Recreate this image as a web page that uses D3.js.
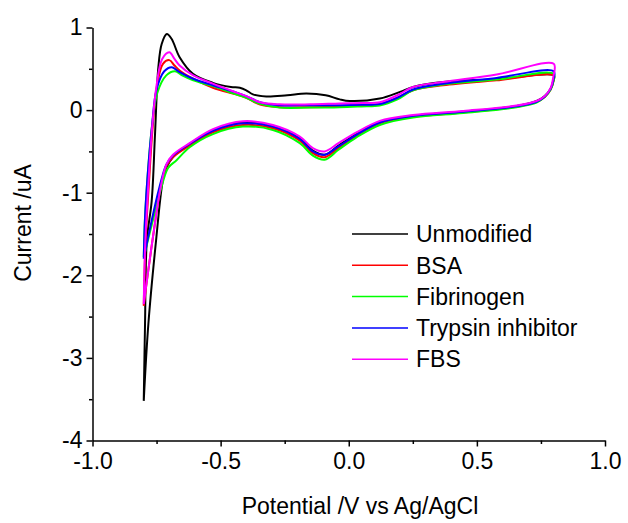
<!DOCTYPE html>
<html>
<head>
<meta charset="utf-8">
<script src="https://cdn.jsdelivr.net/npm/d3@7"></script>
<style>
  body { margin: 0; background: #fff; }
  svg { font-family: "Liberation Sans", Arial, sans-serif; }
</style>
</head>
<body>
<svg id="cv-chart" width="628" height="523"></svg>
<script>
// series names / colours (legend order)
const seriesNames = ["Unmodified", "BSA", "Fibrinogen", "Trypsin inhibitor", "FBS"];
const seriesColors = ["#000000", "#ff0000", "#00ff00", "#0000ff", "#ff00ff"];

// axis ticks
const xTicks = [-1.0, -0.5, 0.0, 0.5, 1.0];
const xMinorTicks = [-0.75, -0.25, 0.25, 0.75];
const yTicks = [-4, -3, -2, -1, 0, 1];
const yMinorTicks = [-3.5, -2.5, -1.5, -0.5, 0.5];

// [potential V, current uA], one full cycle starting at -0.8 V
const unmodified = [
  [-0.800, -3.52], [-0.795, -2.59], [-0.788, -1.58], [-0.769, -1.10], [-0.756, -0.29], [-0.743, 0.52],
  [-0.730, 0.80], [-0.710, 0.92], [-0.691, 0.86], [-0.660, 0.64], [-0.608, 0.44], [-0.530, 0.33],
  [-0.460, 0.28], [-0.425, 0.27], [-0.400, 0.24], [-0.374, 0.19], [-0.322, 0.165], [-0.240, 0.18],
  [-0.166, 0.20], [-0.090, 0.18], [-0.035, 0.13], [0.004, 0.11], [0.121, 0.14], [0.200, 0.22],
  [0.251, 0.28], [0.368, 0.34], [0.577, 0.375], [0.800, 0.42],
  [0.798, 0.35], [0.788, 0.26], [0.765, 0.17], [0.733, 0.11], [0.655, 0.05], [0.447, -0.02],
  [0.251, -0.07], [0.121, -0.15], [0.030, -0.29], [-0.040, -0.43], [-0.094, -0.54], [-0.140, -0.49],
  [-0.191, -0.34], [-0.296, -0.20], [-0.413, -0.15], [-0.530, -0.25], [-0.621, -0.41], [-0.686, -0.57],
  [-0.712, -0.70], [-0.726, -0.86], [-0.752, -1.58], [-0.782, -2.59], [-0.800, -3.52]
];

const bsa = [
  [-0.800, -2.37], [-0.793, -1.60], [-0.780, -0.90], [-0.765, -0.20], [-0.748, 0.30], [-0.725, 0.56],
  [-0.700, 0.605], [-0.680, 0.54], [-0.660, 0.48], [-0.607, 0.38], [-0.530, 0.27], [-0.440, 0.19],
  [-0.400, 0.15], [-0.346, 0.066], [-0.270, 0.035], [-0.150, 0.035], [-0.035, 0.045], [0.050, 0.06],
  [0.121, 0.07], [0.190, 0.15], [0.251, 0.24], [0.368, 0.30], [0.577, 0.36], [0.800, 0.42],
  [0.798, 0.34], [0.788, 0.25], [0.765, 0.16], [0.733, 0.10], [0.655, 0.04], [0.447, -0.03],
  [0.251, -0.08], [0.121, -0.16], [0.030, -0.31], [-0.040, -0.46], [-0.094, -0.57], [-0.140, -0.52],
  [-0.191, -0.37], [-0.296, -0.22], [-0.413, -0.18], [-0.530, -0.27], [-0.621, -0.43], [-0.686, -0.57],
  [-0.712, -0.68], [-0.735, -0.95], [-0.760, -1.45], [-0.785, -2.00], [-0.800, -2.37]
];

const fibrinogen = [
  [-0.800, -1.78], [-0.795, -1.30], [-0.785, -0.80], [-0.768, -0.20], [-0.748, 0.20], [-0.712, 0.42],
  [-0.678, 0.47], [-0.650, 0.42], [-0.607, 0.36], [-0.530, 0.29], [-0.440, 0.19], [-0.400, 0.15],
  [-0.346, 0.075], [-0.270, 0.03], [-0.150, 0.03], [-0.035, 0.035], [0.050, 0.045], [0.121, 0.055],
  [0.190, 0.13], [0.251, 0.24], [0.368, 0.31], [0.577, 0.37], [0.800, 0.44],
  [0.798, 0.34], [0.788, 0.25], [0.765, 0.16], [0.733, 0.09], [0.655, 0.035], [0.447, -0.035],
  [0.251, -0.09], [0.121, -0.18], [0.030, -0.33], [-0.040, -0.48], [-0.094, -0.60], [-0.140, -0.55],
  [-0.191, -0.40], [-0.296, -0.24], [-0.413, -0.20], [-0.530, -0.29], [-0.621, -0.45], [-0.673, -0.61],
  [-0.705, -0.70], [-0.735, -0.98], [-0.768, -1.38], [-0.800, -1.78]
];

const trypsin = [
  [-0.800, -1.80], [-0.795, -1.30], [-0.785, -0.80], [-0.768, -0.20], [-0.750, 0.25], [-0.720, 0.47],
  [-0.691, 0.52], [-0.670, 0.48], [-0.660, 0.46], [-0.607, 0.38], [-0.530, 0.30], [-0.440, 0.215],
  [-0.400, 0.17], [-0.346, 0.095], [-0.270, 0.06], [-0.150, 0.06], [-0.035, 0.06], [0.050, 0.065],
  [0.121, 0.075], [0.190, 0.15], [0.251, 0.25], [0.368, 0.32], [0.577, 0.39], [0.800, 0.47],
  [0.798, 0.36], [0.788, 0.26], [0.765, 0.165], [0.733, 0.10], [0.655, 0.045], [0.447, -0.02],
  [0.251, -0.07], [0.121, -0.15], [0.030, -0.30], [-0.040, -0.44], [-0.094, -0.54], [-0.140, -0.50],
  [-0.191, -0.35], [-0.296, -0.20], [-0.413, -0.16], [-0.530, -0.25], [-0.621, -0.41], [-0.686, -0.55],
  [-0.712, -0.66], [-0.740, -0.95], [-0.770, -1.35], [-0.800, -1.80]
];

const fbs = [
  [-0.800, -2.35], [-0.794, -1.60], [-0.782, -0.90], [-0.767, -0.20], [-0.750, 0.30], [-0.728, 0.62],
  [-0.700, 0.70], [-0.680, 0.62], [-0.660, 0.54], [-0.607, 0.42], [-0.530, 0.32], [-0.440, 0.215],
  [-0.400, 0.17], [-0.346, 0.095], [-0.270, 0.07], [-0.150, 0.07], [-0.035, 0.08], [0.050, 0.085],
  [0.121, 0.095], [0.190, 0.18], [0.251, 0.28], [0.368, 0.34], [0.577, 0.43], [0.800, 0.56],
  [0.798, 0.40], [0.788, 0.27], [0.765, 0.17], [0.733, 0.11], [0.655, 0.055], [0.447, -0.01],
  [0.251, -0.06], [0.121, -0.13], [0.030, -0.27], [-0.040, -0.40], [-0.094, -0.50], [-0.140, -0.46],
  [-0.191, -0.32], [-0.296, -0.18], [-0.413, -0.135], [-0.530, -0.23], [-0.621, -0.40], [-0.686, -0.54],
  [-0.712, -0.66], [-0.735, -0.95], [-0.760, -1.45], [-0.785, -2.00], [-0.800, -2.35]
];

const seriesData = [unmodified, bsa, fibrinogen, trypsin, fbs];

const svg = d3.select("#cv-chart");
const margin = { top: 27.5, right: 23, bottom: 82.5, left: 92.5 };
const width = 628 - margin.left - margin.right;
const height = 523 - margin.top - margin.bottom;

const x = d3.scaleLinear().domain([-1, 1]).range([margin.left, margin.left + width]);
const y = d3.scaleLinear().domain([-4, 1]).range([margin.top + height, margin.top]);

// axes (left + bottom only)
const xAxis = svg.append("g").attr("transform", `translate(0, ${y(-4)})`)
  .call(d3.axisBottom(x).tickValues(xTicks).tickFormat(d3.format(".1f")).tickSize(6).tickSizeOuter(0).tickPadding(6));
svg.append("g").attr("transform", `translate(0, ${y(-4)})`)
  .call(d3.axisBottom(x).tickValues(xMinorTicks).tickFormat("").tickSize(3.5).tickSizeOuter(0))
  .select(".domain").remove();

const yAxis = svg.append("g").attr("transform", `translate(${x(-1)}, 0)`)
  .call(d3.axisLeft(y).tickValues(yTicks).tickFormat(d3.format("d")).tickSize(6).tickSizeOuter(0).tickPadding(4));
svg.append("g").attr("transform", `translate(${x(-1)}, 0)`)
  .call(d3.axisLeft(y).tickValues(yMinorTicks).tickFormat("").tickSize(3.5).tickSizeOuter(0))
  .select(".domain").remove();

svg.selectAll(".domain, .tick line").attr("stroke", "#000").attr("stroke-width", 1.5);
svg.selectAll(".tick text").attr("font-size", 23).attr("fill", "#000")
  .attr("font-family", "'Liberation Sans', Arial, sans-serif");
xAxis.selectAll(".tick text").attr("dy", "0.71em");
// D3 puts a unicode minus in; original uses a hyphen
svg.selectAll(".tick text").text(function () { return d3.select(this).text().replace("\u2212", "-"); });

// axis titles
svg.append("text")
  .attr("x", 360).attr("y", 514)
  .attr("text-anchor", "middle").attr("font-size", 23)
  .text("Potential /V vs Ag/AgCl");

svg.append("text")
  .attr("transform", "translate(31, 223) rotate(-90)")
  .attr("text-anchor", "middle").attr("font-size", 23)
  .text("Current /uA");

// curves
const line = d3.line()
  .x((d) => x(d[0]))
  .y((d) => y(d[1]))
  .curve(d3.curveCatmullRom.alpha(0.5));

svg.append("g").selectAll("path")
  .data(seriesData)
  .join("path")
  .attr("fill", "none")
  .attr("stroke", (d, i) => seriesColors[i])
  .attr("stroke-width", 2)
  .attr("stroke-linejoin", "round")
  .attr("d", line);

// legend
const legend = svg.append("g").attr("transform", "translate(352, 234)");
const rows = legend.selectAll("g").data(seriesNames).join("g")
  .attr("transform", (d, i) => `translate(0, ${i * 31.3})`);
rows.append("line")
  .attr("x1", 0).attr("x2", 56)
  .attr("stroke", (d, i) => seriesColors[i])
  .attr("stroke-width", 1.5);
rows.append("text")
  .attr("x", 64).attr("dy", "0.36em")
  .attr("font-size", 23)
  .text((d) => d);
</script>
</body>
</html>
